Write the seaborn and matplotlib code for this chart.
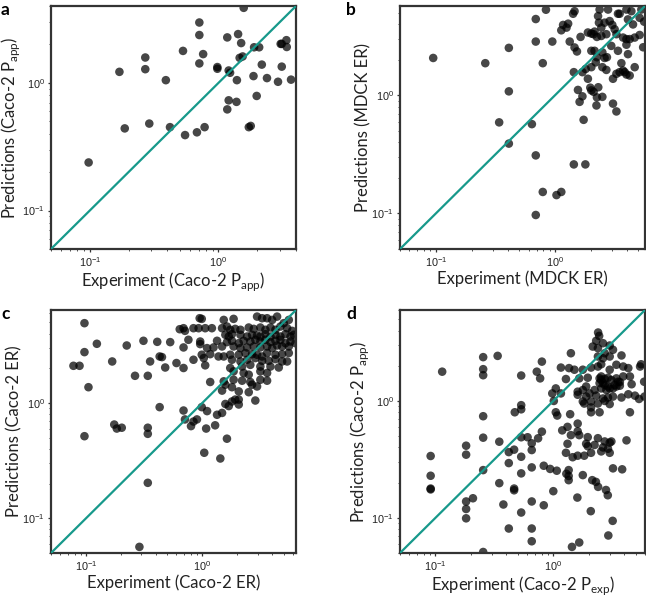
import matplotlib
matplotlib.use("Agg")
import matplotlib.pyplot as plt
import seaborn as sns
import pandas as pd

# ---------------- data ----------------
a_x = [0.098, 0.17, 0.187, 0.27, 0.27, 0.29, 0.39, 0.42, 0.53, 0.55,
       0.68, 0.78, 0.71, 0.71, 0.71, 0.76, 0.98, 0.98, 1.17, 1.2,
       1.23, 1.17, 1.2, 1.38, 1.39, 1.42, 1.5, 1.46, 1.54, 1.57,
       1.72, 1.78, 1.87, 1.89, 2.07, 1.98, 2.17, 2.38, 2.9, 3.04,
       3.1, 3.1, 3.37, 3.39, 3.66]
a_y = [0.238, 1.22, 0.44, 1.58, 1.28, 0.48, 1.05, 0.45, 1.78, 0.39,
       0.41, 0.45, 2.97, 2.37, 1.42, 1.68, 1.33, 1.29, 2.27, 1.25,
       1.2, 0.62, 0.73, 0.71, 1.05, 2.41, 2.05, 1.57, 1.61, 3.87,
       0.45, 0.46, 1.13, 1.9, 1.9, 0.79, 1.39, 1.09, 1.02, 2.02,
       2.02, 1.34, 2.16, 1.91, 1.06]

b_x = [0.095, 0.26, 0.34, 0.41, 0.41, 0.41, 0.64, 0.69, 0.69, 0.69,
       0.69, 0.79, 0.79, 0.84, 0.95, 1.03, 1.13, 1.44, 1.8, 1.42,
       1.46, 1.17, 1.29, 1.13, 1.25, 1.33, 1.46, 1.53, 1.64, 1.89,
       2.02, 2.15, 2.37, 2.3, 2.34, 2.45, 2.61, 2.7, 2.45, 2.25,
       2.11, 2.79, 2.88, 3.03, 3.17, 3.28, 3.38, 3.49, 3.98, 4.1,
       4.38, 4.52, 5.14, 5.31, 3.73, 3.98, 4.24, 4.67, 5.14, 2.97,
       3.38, 3.98, 4.1, 2.5, 2.15, 2.02, 2.25, 2.61, 2.73, 2.2,
       2.5, 3.61, 3.73, 3.49, 3.85, 4.67, 3.98, 4.24, 3.28, 3.07,
       2.7, 2.02, 1.81, 1.7, 1.44, 1.89, 1.56, 1.98, 2.31, 2.11,
       2.02, 1.7, 2.25, 2.5, 1.61, 2.23, 3.07, 3.28, 1.74, 5.5,
       5.6]
b_y = [2.07, 1.87, 0.59, 2.52, 1.08, 0.39, 0.57, 4.42, 2.85, 0.31,
       0.097, 1.87, 0.152, 5.3, 2.85, 0.143, 0.152, 0.26, 0.26, 4.9,
       5.15, 3.94, 4.04, 3.55, 3.74, 2.85, 2.54, 2.35, 3.12, 3.4,
       3.33, 3.46, 5.32, 4.68, 4.12, 3.74, 4.12, 3.29, 3.18, 3.12,
       3.29, 5.32, 4.25, 3.94, 3.62, 3.29, 4.9, 4.9, 5.32, 4.39,
       5.15, 3.98, 4.53, 5.32, 3.08, 2.99, 2.99, 3.08, 3.24, 2.62,
       2.38, 2.68, 2.23, 2.31, 2.38, 2.38, 2.1, 2.07, 2.1, 1.9,
       1.73, 1.87, 1.62, 1.57, 1.57, 1.73, 1.5, 1.47, 1.52, 1.38,
       1.64, 1.73, 1.67, 1.57, 1.57, 1.38, 1.11, 1.16, 1.17, 1.07,
       1.1, 0.98, 0.96, 0.97, 0.88, 0.82, 0.85, 0.73, 0.62, 2.55,
       4.2]

c_x = [0.99, 1.53, 1.86, 2.96, 3.27, 3.61, 3.99, 4.40, 5.55, 5.02,
       0.69, 0.71, 0.84, 0.93, 1.06, 1.21, 1.48, 1.63, 1.74, 1.92,
       2.13, 2.51, 2.77, 3.16, 3.49, 3.86, 4.26, 4.70, 5.37, 5.93,
       1.58, 1.69, 1.80, 2.13, 2.43, 2.68, 2.96, 3.16, 3.49, 3.86,
       4.26, 4.70, 5.19, 5.74, 6.13,
       0.53, 0.76, 0.96, 1.34, 1.63, 1.80, 2.06, 2.27, 2.59, 2.86,
       3.16, 3.49, 3.86, 4.26, 4.70, 5.19, 5.74, 6.33,
       0.69, 0.96, 1.10, 1.25, 1.48, 1.86, 2.13, 2.43, 2.77, 3.16,
       3.61, 3.99, 4.40, 4.86, 5.55,
       0.99, 1.17, 1.38, 1.53, 1.74, 2.06, 2.35, 2.68, 2.96, 3.27,
       3.61, 4.26, 4.86, 5.55,
       0.84, 1.03, 1.80, 2.13, 2.43, 2.86, 3.27, 3.73, 4.26, 4.86, 5.37,
       0.48, 0.60, 0.69, 1.06, 1.74, 2.20, 2.59, 3.16, 3.86, 4.55,
       1.86, 2.27, 2.51, 3.16, 3.61,
       1.17, 1.53, 1.86, 2.20, 2.59, 3.16, 3.61,
       1.58, 1.80, 2.68, 2.96,
       1.48, 2.06, 2.51,
       1.58, 1.80, 1.92, 2.06, 2.86,
       1.69, 2.06, 0.69, 0.99,
       1.34, 1.48, 1.10, 0.71, 0.84, 0.90,
       0.45, 0.64, 0.95,
       0.097, 0.097, 0.097, 0.078, 0.088, 0.105, 0.124, 0.168, 0.175, 0.184,
       0.203, 0.224, 0.264, 0.288, 0.312, 0.34, 0.34, 0.34, 0.34, 0.356,
       0.41, 0.43, 0.43, 0.8, 1.04, 1.08, 1.29, 1.43, 1.63]
c_y = [5.36, 5.25, 5.36, 5.61, 5.43, 5.43, 5.25, 5.61, 5.25, 4.92,
       4.45, 4.22, 4.45, 4.45, 4.45, 4.45, 4.45, 4.60, 4.31, 4.39,
       4.31, 4.51, 4.39, 4.51, 4.31, 4.51, 4.31, 4.60, 4.45, 4.22,
       3.90, 3.77, 3.95, 3.90, 3.77, 3.90, 3.85, 3.77, 3.95, 3.77,
       3.90, 3.77, 3.95, 3.77, 3.90,
       3.37, 3.53, 3.41, 3.46, 3.37, 3.46, 3.30, 3.46, 3.41, 3.53,
       3.41, 3.53, 3.37, 3.46, 3.53, 3.30, 3.41, 3.30,
       3.03, 3.24, 2.99, 3.03, 3.09, 3.09, 2.99, 3.03, 3.09, 3.03,
       3.09, 2.99, 3.15, 3.09, 3.09,
       2.62, 2.65, 2.53, 2.53, 2.62, 2.62, 2.71, 2.65, 2.62, 2.53,
       2.71, 2.62, 2.65, 2.71,
       2.37, 2.45, 2.37, 2.29, 2.37, 2.45, 2.32, 2.32, 2.40, 2.29, 2.29,
       2.03, 2.22, 2.01, 2.12, 2.01, 2.07, 2.14, 2.07, 2.07, 2.03,
       1.88, 1.82, 1.76, 1.88, 1.82,
       1.52, 1.54, 1.59, 1.56, 1.52, 1.59, 1.56,
       1.44, 1.37, 1.44, 1.39,
       1.28, 1.26, 1.24,
       0.98, 1.03, 1.07, 1.07, 1.05,
       0.94, 0.97, 0.86, 0.92,
       0.79, 0.82, 0.85, 0.72, 0.69, 0.72,
       2.5, 4.36, 5.43,
       4.92, 2.76, 0.515, 2.1, 2.1, 1.37, 3.26, 2.29, 0.65, 0.6,
       0.61, 3.15, 1.72, 0.0565, 3.46, 1.72, 0.61, 0.54, 0.203, 2.29,
       3.39, 0.92, 2.53, 0.63, 0.37, 0.6, 0.64, 0.33, 0.49]

d_x = [0.091, 0.091, 0.091, 0.091, 0.114, 0.182, 0.182, 0.182, 0.182, 0.182,
       0.208, 0.254, 0.254, 0.254, 0.254, 0.254, 0.254, 0.254, 0.337, 0.348,
       0.348, 0.377, 0.419, 0.419, 0.419, 0.465, 0.465, 0.465, 0.471, 0.534,
       0.534, 0.534, 0.534, 0.534, 0.534, 0.605, 0.656, 0.656, 0.656, 0.656,
       0.656, 0.656, 0.724, 0.773, 0.8, 0.8, 0.83, 0.83, 0.94, 1.0,
       1.07, 1.29, 1.35, 1.35, 1.35, 1.44, 1.6, 1.66, 1.78, 2.08,
       2.14, 2.3, 2.4, 2.8, 2.9, 2.93, 3.19, 3.21, 3.84, 0.534,
       0.743,
       2.4, 2.45, 2.31, 2.64, 2.16, 2.39, 3.01, 3.21,
       1.41, 2.39, 2.64, 3.01, 2.73, 3.79,
       1.16, 1.36, 1.51, 1.78, 2.09, 2.39, 2.55, 3.01, 3.43, 3.92, 4.33, 5.56, 5.45,
       1.28, 1.66, 1.96, 2.55, 2.73, 2.91, 3.11, 3.43, 3.67, 3.92, 4.47,
       2.47, 2.73, 3.01, 3.32, 3.67, 2.55, 2.82, 4.62, 5.9,
       1.05, 1.16, 0.98, 1.61, 1.78, 1.90, 2.03, 2.24, 1.61, 1.90,
       2.31, 2.64, 2.91, 3.21, 3.79, 4.33, 4.93, 5.34, 5.94,
       1.01, 1.78, 1.83, 2.09, 2.39, 2.73, 3.01,
       1.05, 1.39, 2.09, 2.09, 2.47, 4.47, 1.08,
       1.61, 1.32, 1.19, 1.61, 1.66, 1.96, 2.39, 2.73, 3.01, 3.11, 4.18, 1.41,
       1.32, 1.90, 1.96, 2.24, 2.64, 2.91, 2.55, 3.01,
       1.28, 1.46, 1.61, 1.83, 2.09,
       2.47, 2.55, 2.64, 2.91, 3.21, 3.43, 3.55]
d_y = [0.338, 0.229, 0.178, 0.175, 1.78, 0.414, 0.347, 0.138, 0.119, 0.099,
       0.147, 2.37, 1.87, 1.66, 0.74, 0.485, 0.256, 0.051, 2.43, 0.448,
       0.198, 0.13, 0.365, 0.294, 0.081, 0.383, 0.178, 0.172, 0.8, 1.65,
       0.92, 0.848, 0.333, 0.24, 0.111, 0.489, 0.434, 0.38, 0.27, 0.138,
       0.081, 0.063, 1.78, 1.56, 2.17, 0.546, 0.279, 0.128, 0.262, 0.169,
       0.253, 0.238, 0.228, 0.21, 0.256, 0.0564, 0.149, 0.0615, 0.232, 0.114,
       0.21, 0.203, 0.184, 0.173, 0.156, 0.0706, 0.0942, 0.265, 0.26, 0.489,
       0.479,
       3.85, 3.6, 3.27, 3.12, 2.92, 2.83, 2.98, 2.74,
       2.56, 2.40, 2.32, 2.40, 2.56, 2.45,
       1.93, 1.91, 1.85, 1.85, 1.93, 1.97, 2.06, 1.85, 2.04, 1.97, 1.91, 2.06, 1.97,
       1.54, 1.56, 1.58, 1.62, 1.54, 1.58, 1.51, 1.56, 1.45, 1.62, 1.62,
       1.42, 1.37, 1.28, 1.37, 1.35, 1.28, 1.24, 1.39, 1.46,
       1.28, 1.16, 1.16, 1.20, 1.24, 1.33, 1.16, 1.24, 1.13, 1.09,
       1.11, 1.05, 1.07, 1.09, 1.07, 1.14, 1.11, 1.04, 1.09,
       1.0, 0.99, 0.95, 0.99, 0.95, 1.0, 0.94,
       0.80, 0.77, 0.88, 0.80, 0.80, 0.80, 0.75,
       0.64, 0.60, 0.56, 0.55, 0.51, 0.49, 0.48, 0.45, 0.44, 0.45, 0.46, 0.51,
       0.43, 0.43, 0.41, 0.42, 0.40, 0.39, 0.37, 0.36,
       0.36, 0.33, 0.34, 0.34, 0.36,
       1.56, 1.51, 1.42, 1.33, 1.28, 1.33, 1.46]

panel_letters = ["a", "b", "c", "d"]
x_labels = ["Experiment (Caco-2 P$_{\\mathregular{app}}$)", "Experiment (MDCK ER)",
            "Experiment (Caco-2 ER)", "Experiment (Caco-2 P$_{\\mathregular{exp}}$)"]
y_labels = ["Predictions (Caco-2 P$_{\\mathregular{app}}$)", "Predictions (MDCK ER)",
            "Predictions (Caco-2 ER)", "Predictions (Caco-2 P$_{\\mathregular{app}}$)"]
lims = [(0.05, 4.0), (0.05, 5.7), (0.05, 6.4), (0.05, 6.0)]

# ---------------- style ----------------
sns.set_style("ticks")
plt.rcParams["font.family"] = ["Lato", "DejaVu Sans"]

W, H = 646, 597
fig = plt.figure(figsize=(W / 100, H / 100), dpi=100)

boxes = [(51, 6, 296, 249), (400, 6, 645, 249), (51, 310, 296, 553), (400, 310, 645, 553)]
letter_pos = [(1, 2), (346, 2), (1, 306), (346, 306)]
data = [(a_x, a_y), (b_x, b_y), (c_x, c_y), (d_x, d_y)]
teal = "#17998b"

for i, (box, (xs, ys)) in enumerate(zip(boxes, data)):
    x0, y0, x1, y1 = box
    wpx, hpx = x1 - x0, y1 - y0
    ax = fig.add_axes([x0 / W, 1 - y1 / H, wpx / W, hpx / H])
    df = pd.DataFrame({"exp": xs, "pred": ys})
    sns.scatterplot(data=df, x="exp", y="pred", ax=ax, color="black", alpha=0.72,
                    s=38, edgecolor="none", linewidth=0, zorder=2)
    ax.set_xscale("log")
    ax.set_yscale("log")
    lo, hi = lims[i]
    ax.set_xlim(lo, hi)
    ax.set_ylim(lo, hi)
    ax.axline((0.1, 0.1), (1.0, 1.0), color=teal, lw=1.6, zorder=3)
    for sp in ax.spines.values():
        sp.set_color("#333333")
        sp.set_linewidth(1.6)
    ax.tick_params(axis="both", which="major", length=2.5, width=0.9, color="#333333",
                   labelsize=7.8, labelcolor="#222222", pad=2,
                   labelfontfamily="Liberation Sans")
    ax.tick_params(axis="both", which="minor", length=1.5, width=0.6, color="#333333")
    ax.set_xlabel(x_labels[i], fontsize=12, color="#222222")
    ax.set_ylabel(y_labels[i], fontsize=12, color="#222222")
    # label anchors placed to match the reference layout
    ax.xaxis.set_label_coords(0.5, -21 / hpx)
    ax.yaxis.set_label_coords(-29 / wpx, 0.5)
    lx, ly = letter_pos[i]
    fig.text(lx / W, 1 - ly / H, panel_letters[i], fontsize=12.5, fontweight="bold",
             va="top", ha="left", color="black")

fig.savefig("out.png", dpi=100)
